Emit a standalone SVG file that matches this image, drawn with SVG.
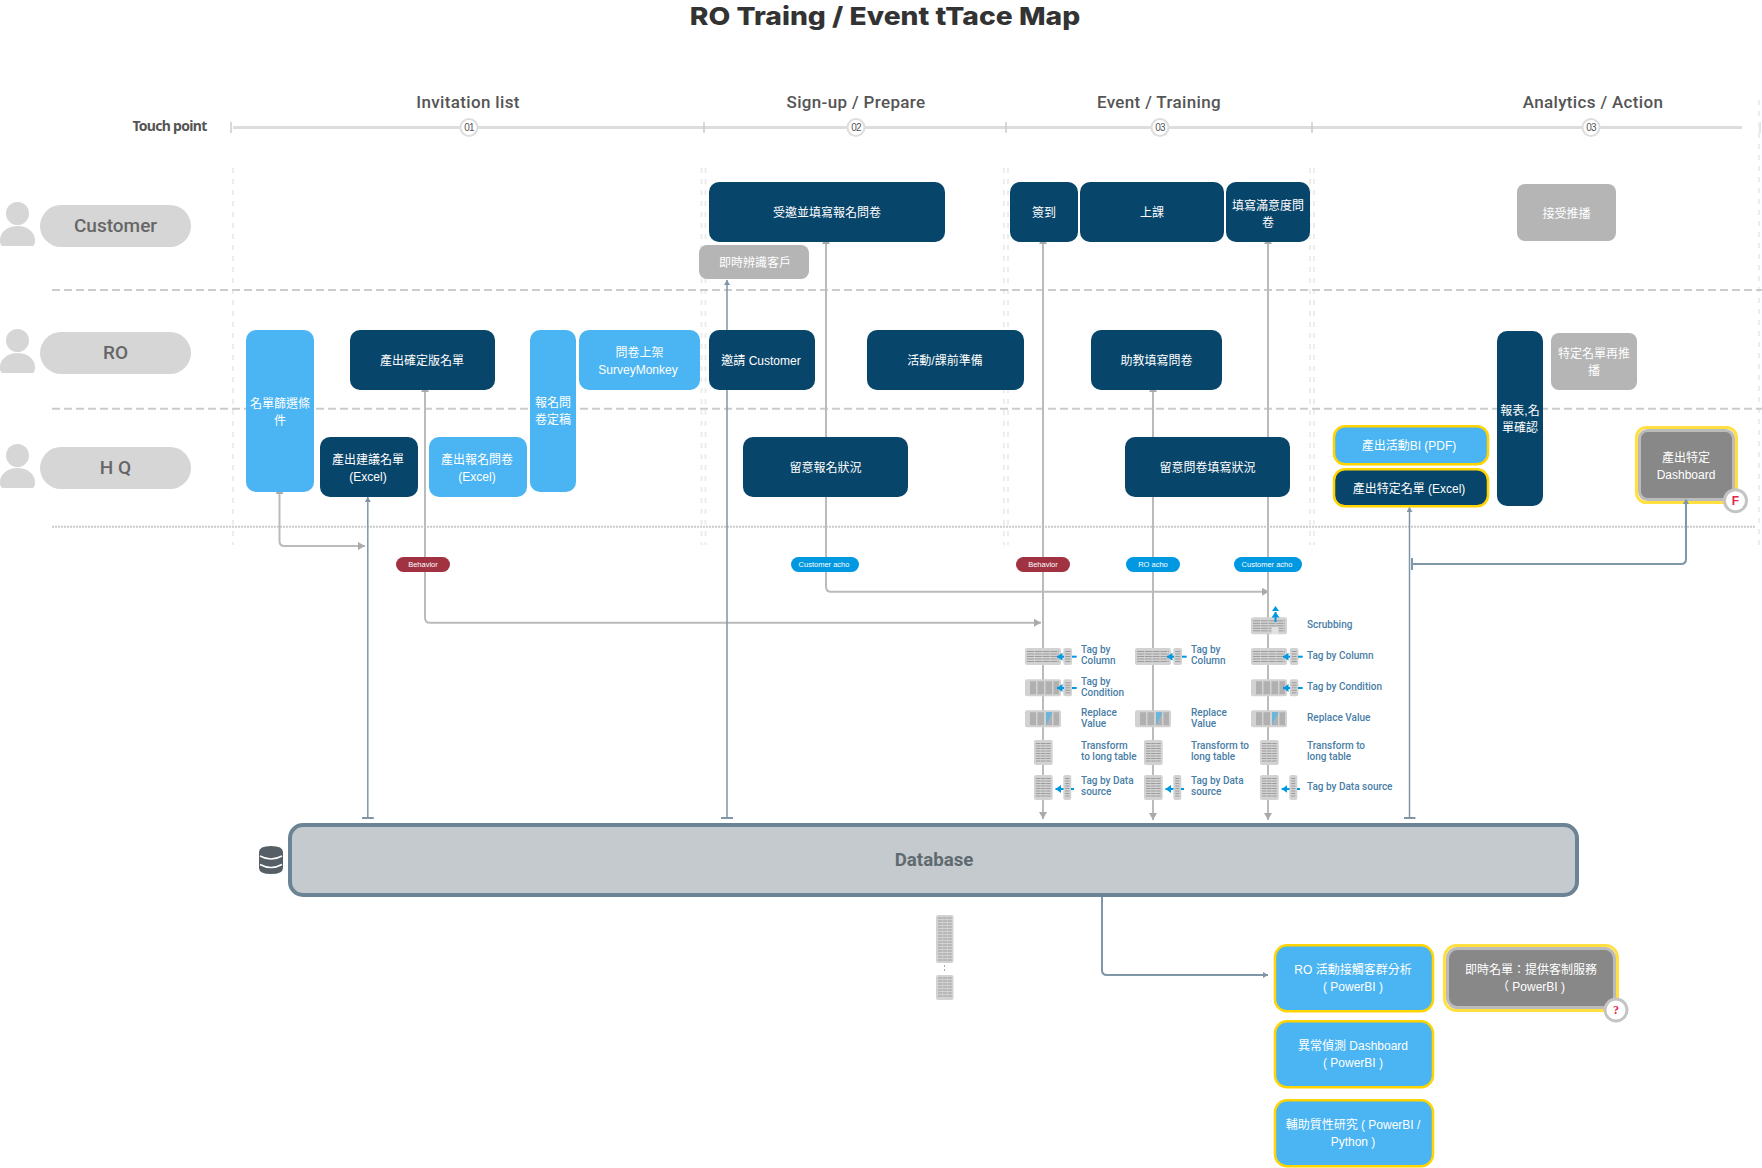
<svg xmlns="http://www.w3.org/2000/svg" width="1762" height="1168" viewBox="0 0 1762 1168">
<style>
text{font-family:"Liberation Sans","Noto Sans CJK TC",sans-serif;text-anchor:middle}
.title{font-family:Inter,"Noto Sans",sans-serif;font-size:25px;font-weight:800;fill:#333}
.phase{font-family:Roboto,sans-serif;font-size:17px;font-weight:500;fill:#555;letter-spacing:.35px}
.num{font-size:10px;fill:#555;letter-spacing:-.8px}
.actor{font-family:Roboto,sans-serif;font-size:19px;font-weight:500;fill:#666}
.n{font-size:12px;fill:#fff}
.tag{font-size:7.5px;fill:#fff}
.lab{font-family:Roboto,sans-serif;font-size:10px;font-weight:500;fill:#4a7ea6;text-anchor:start}
.dark{fill:#08456a}.blue{fill:#4ab5f2}.gray{fill:#b5b5b5}
.yl{stroke:#ffd400;stroke-width:2.5}
.sep{stroke:#ccc;stroke-width:2;stroke-dasharray:8 4;fill:none}
.vd{stroke:#ededed;stroke-width:2;stroke-dasharray:5 6;fill:none}
.tick{stroke:#ccc;stroke-width:1.5}
.cg{stroke:#bbb;stroke-width:2;fill:none}
.cb{stroke:#7f96a6;stroke-width:1.5;fill:none}
.ar{stroke:#0098e0;stroke-width:2;fill:none}
</style>
<defs>
<marker id="mg" markerUnits="userSpaceOnUse" markerWidth="8" markerHeight="8" refX="7" refY="4" orient="auto-start-reverse"><path d="M0 0L7 4L0 8Z" fill="#aaa"/></marker>
<marker id="mb" markerUnits="userSpaceOnUse" markerWidth="6" markerHeight="6" refX="5" refY="3" orient="auto-start-reverse"><path d="M0 0L5 3L0 6Z" fill="#7f96a6"/></marker>
<marker id="mt" markerUnits="userSpaceOnUse" markerWidth="4" markerHeight="12" refX="2" refY="6" orient="auto-start-reverse"><path d="M1 0H3V12H1Z" fill="#7f96a6"/></marker>
<marker id="ma" markerUnits="userSpaceOnUse" markerWidth="6" markerHeight="8" refX="5.500" refY="4" orient="auto"><path d="M0 0L5.500 4L0 8Z" fill="#0098e0"/></marker>
<g id="person" fill="#d6d6d6"><ellipse cx="17.500" cy="11.500" rx="11.500" ry="11.500"/><path d="M3 44Q0 44 0 38C0 30 8 24 17.500 24C27 24 35 30 35 38Q35 44 32 44Z"/></g>
<g id="tw"><rect width="36" height="17" rx="2" fill="#d2d2d2"/><path d="M2 3.500H34M2 6H34M2 8.500H34M2 11H34M2 13.500H34" stroke="#9c9c9c" stroke-width="1" stroke-dasharray="7 .8"/></g>
<g id="tc"><rect width="36" height="17" rx="2" fill="#d2d2d2"/><path d="M5 2H11V15H5ZM12.500 2H19V15H12.500ZM20.500 2H27V15H20.500ZM28.500 2H34V15H28.500Z" fill="#b0b0b0"/></g>
<g id="tr"><rect width="36" height="17" rx="2" fill="#d2d2d2"/><path d="M5 2H11V15H5ZM12.500 2H19V15H12.500ZM21 2H27V15H21ZM28.500 2H34V15H28.500Z" fill="#b0b0b0"/><path d="M21 2H27.500L21 15Z" fill="#66b6de"/></g>
<g id="tl"><rect width="18.700" height="25" rx="2" fill="#d2d2d2"/><path d="M2 3.500H17M2 6H17M2 8.500H17M2 11H17M2 13.500H17M2 16H17M2 18.500H17M2 21H17" stroke="#9c9c9c" stroke-width="1" stroke-dasharray="4.500 .6"/></g>
<g id="ss"><rect width="8.700" height="17" rx="2" fill="#d2d2d2"/><path d="M2 3.500H7M2 6H7M2 8.500H7M2 11H7M2 13.500H7" stroke="#9c9c9c"/></g>
<g id="sl"><rect width="8" height="25" rx="2" fill="#d2d2d2"/><path d="M2 3.500H6M2 6H6M2 8.500H6M2 11H6M2 13.500H6M2 16H6M2 18.500H6M2 21H6" stroke="#9c9c9c"/></g>
</defs>

<rect width="1762" height="1168" fill="#fff"/>
<text id="title" class="title" transform="translate(885 24.500) scale(1.13 1)">RO Traing / Event tTace Map</text>

<g id="timeline">
<text class="phase" x="468" y="108">Invitation list</text>
<text class="phase" x="856" y="108">Sign-up / Prepare</text>
<text class="phase" x="1159" y="108">Event / Training</text>
<text class="phase" x="1593" y="108">Analytics / Action</text>
<text x="169.500" y="131" style="font-family:'Noto Sans',sans-serif;font-size:14px;font-weight:700;fill:#555;letter-spacing:-.7px">Touch point</text>
<path d="M233 127.500H1742" stroke="#ddd" stroke-width="3"/>
<path class="tick" d="M231 122V133M704 122V133M1006 122V133M1312 122V133"/>
<path d="M1760 122V133" stroke="#e4e4e4" stroke-width="2"/>
<g fill="#fff" stroke="#ddd" stroke-width="2"><circle cx="469" cy="127.500" r="8.500"/><circle cx="856" cy="127.500" r="8.500"/><circle cx="1160" cy="127.500" r="8.500"/><circle cx="1591" cy="127.500" r="8.500"/></g>
<text class="num" x="469" y="131">01</text><text class="num" x="856" y="131">02</text><text class="num" x="1160" y="131">03</text><text class="num" x="1591" y="131">03</text>
</g>

<g id="grid">
<path class="vd" d="M233 168V545M701.500 168V545M705.500 168V545M1004 168V545M1008 168V545M1310 168V545M1314 168V545M1759 100V545"/>
<path class="sep" d="M52 290H1762M52 408.700H1762"/>
<path d="M52 526.700H1756" stroke="#ccc" stroke-width="2" stroke-dasharray="2 1"/>
</g>

<g id="connectors">
<path class="cg" marker-start="url(#mg)" marker-end="url(#mg)" d="M279.500 487V541Q279.500 546 284.500 546H365"/>
<path class="cg" marker-start="url(#mg)" marker-end="url(#mg)" d="M425 385V617.700Q425 622.700 430 622.700H1041"/>
<path class="cg" marker-start="url(#mg)" marker-end="url(#mg)" d="M826 237V586.700Q826 591.700 831 591.700H1269"/>
<path class="cg" marker-start="url(#mg)" marker-end="url(#mg)" d="M1043 237V819"/>
<path class="cg" marker-start="url(#mg)" marker-end="url(#mg)" d="M1153 385V820"/>
<path class="cg" marker-start="url(#mg)" marker-end="url(#mg)" d="M1268 237V820"/>
<path class="cb" marker-start="url(#mb)" marker-end="url(#mt)" d="M367.800 497V818"/>
<path class="cb" marker-start="url(#mb)" marker-end="url(#mt)" d="M727 280V818"/>
<path class="cb" marker-start="url(#mb)" marker-end="url(#mt)" d="M1409.500 507V818"/>
<path class="cb" style="stroke-width:2" marker-start="url(#mt)" d="M1412 564H1681Q1686 564 1686 559V500"/>
<path class="cb" style="stroke-width:2" marker-end="url(#mb)" d="M1102 897V970Q1102 975 1107 975H1268"/>
</g>

<g id="actors">
<g id="actor-customer"><use href="#person" x="0" y="202"/><rect x="40" y="205" width="151" height="42" rx="21" fill="#d6d6d6"/><text class="actor" x="115.500" y="232">Customer</text></g>
<g id="actor-ro"><use href="#person" x="0" y="329"/><rect x="40" y="332" width="151" height="42" rx="21" fill="#d6d6d6"/><text class="actor" x="115.500" y="359">RO</text></g>
<g id="actor-hq"><use href="#person" x="0" y="444"/><rect x="40" y="447" width="151" height="42" rx="21" fill="#d6d6d6"/><text class="actor" x="115.500" y="474">H Q</text></g>
</g>

<g id="n1"><rect class="dark" x="709" y="182" width="236" height="60" rx="10"/><text class="n" x="827" y="217">受邀並填寫報名問卷</text></g>
<g id="n2"><rect class="dark" x="1010" y="182" width="68" height="60" rx="10"/><text class="n" x="1044" y="217">簽到</text></g>
<g id="n3"><rect class="dark" x="1080" y="182" width="144" height="60" rx="10"/><text class="n" x="1152" y="217">上課</text></g>
<g id="n4"><rect class="dark" x="1226" y="182" width="84" height="60" rx="10"/><text class="n" x="1268" y="209.500">填寫滿意度問<tspan x="1268" dy="17">卷</tspan></text></g>
<g id="n5"><rect class="gray" x="1517" y="184" width="99" height="57" rx="8"/><text class="n" x="1566.500" y="218">接受推播</text></g>
<g id="n6"><rect class="gray" x="699" y="245" width="110" height="34" rx="8"/><text class="n" x="755" y="267">即時辨識客戶</text></g>

<g id="n7"><rect class="blue" x="246" y="330" width="68" height="162" rx="10"/><text class="n" x="280" y="408">名單篩選條<tspan x="280" dy="17">件</tspan></text></g>
<g id="n8"><rect class="dark" x="350" y="330" width="145" height="60" rx="10"/><text class="n" x="422" y="365">產出確定版名單</text></g>
<g id="n9"><rect class="blue" x="530" y="330" width="46" height="162" rx="10"/><text class="n" x="553" y="407">報名問<tspan x="553" dy="17">卷定稿</tspan></text></g>
<g id="n10"><rect class="blue" x="579" y="330" width="121" height="60" rx="10"/><text class="n" x="639.500" y="357">問卷上架<tspan x="638" dy="17">SurveyMonkey</tspan></text></g>
<g id="n11"><rect class="dark" x="709" y="330" width="106" height="60" rx="10"/><text class="n" x="761" y="365">邀請 Customer</text></g>
<g id="n12"><rect class="dark" x="867" y="330" width="157" height="60" rx="10"/><text class="n" x="945" y="365">活動/課前準備</text></g>
<g id="n13"><rect class="dark" x="1091" y="330" width="131" height="60" rx="10"/><text class="n" x="1156.500" y="365">助教填寫問卷</text></g>
<g id="n14"><rect class="dark" x="1497" y="331" width="46" height="175" rx="10"/><text class="n" x="1520" y="415">報表,名<tspan x="1520" dy="17">單確認</tspan></text></g>
<g id="n15"><rect class="gray" x="1551" y="333" width="86" height="57" rx="8"/><text class="n" x="1594" y="358">特定名單再推<tspan x="1594" dy="17">播</tspan></text></g>

<g id="n16"><rect class="dark" x="320" y="437" width="98" height="60" rx="10"/><text class="n" x="368" y="464">產出建議名單<tspan x="368" dy="17">(Excel)</tspan></text></g>
<g id="n17"><rect class="blue" x="429" y="437" width="98" height="60" rx="10"/><text class="n" x="477" y="464">產出報名問卷<tspan x="477" dy="17">(Excel)</tspan></text></g>
<g id="n18"><rect class="dark" x="743" y="437" width="165" height="60" rx="10"/><text class="n" x="825.500" y="472">留意報名狀況</text></g>
<g id="n19"><rect class="dark" x="1125" y="437" width="165" height="60" rx="10"/><text class="n" x="1207.500" y="472">留意問卷填寫狀況</text></g>
<g id="n20"><rect class="blue yl" x="1334" y="426.250" width="154" height="38" rx="11"/><text class="n" x="1409" y="450">產出活動BI (PDF)</text></g>
<g id="n21"><rect class="dark yl" x="1334" y="469.250" width="154" height="37" rx="11"/><text class="n" x="1409" y="493">產出特定名單 (Excel)</text></g>
<g id="n22"><rect x="1636.500" y="427.500" width="100" height="75" rx="10" fill="none" stroke="#ffe040" stroke-width="3"/><rect x="1639.500" y="430.500" width="94" height="69" rx="8" fill="#888" stroke="#bbb" stroke-width="3"/><text class="n" x="1686" y="462">產出特定<tspan x="1686" dy="17">Dashboard</tspan></text>
<path d="M1686 498.500L1689 504H1683Z" fill="#7f96a6"/><path d="M1686 503V506" stroke="#7f96a6" stroke-width="2"/>
<circle cx="1735.500" cy="500.700" r="11" fill="#fff" stroke="#c4c4c4" stroke-width="3"/><text x="1735.500" y="505" style="font-size:12px;font-weight:700;fill:#e6254b">F</text></g>

<g id="tags">
<g><rect x="396" y="557" width="54" height="15" rx="7.500" fill="#a03242"/><text class="tag" x="423" y="566.500">Behavior</text></g>
<g><rect x="791" y="557" width="68" height="15" rx="7.500" fill="#0098e0"/><text class="tag" x="824" y="566.500">Customer acho</text></g>
<g><rect x="1016" y="557" width="54" height="15" rx="7.500" fill="#a03242"/><text class="tag" x="1043" y="566.500">Behavior</text></g>
<g><rect x="1126" y="557" width="54" height="15" rx="7.500" fill="#0098e0"/><text class="tag" x="1153" y="566.500">RO acho</text></g>
<g><rect x="1234" y="557" width="68" height="15" rx="7.500" fill="#0098e0"/><text class="tag" x="1267" y="566.500">Customer acho</text></g>
</g>

<g id="col1">
<use href="#tw" x="1025" y="648"/><use href="#ss" x="1063.300" y="648"/><path class="ar" marker-end="url(#ma)" d="M1064 656.700H1057"/><path class="ar" d="M1072 656.700H1076.700"/>
<use href="#tc" x="1025" y="679.300"/><use href="#ss" x="1063.300" y="679.300"/><path class="ar" marker-end="url(#ma)" d="M1064 688H1057"/><path class="ar" d="M1072 688H1076.700"/>
<use href="#tr" x="1025" y="710.300"/>
<use href="#tl" x="1034" y="740"/>
<use href="#tl" x="1034" y="775"/><use href="#sl" x="1063.300" y="775"/><path class="ar" d="M1071 789H1074"/><path class="ar" marker-end="url(#ma)" d="M1063.500 789H1055.500"/>
<text class="lab" x="1081" y="653.300">Tag by<tspan x="1081" y="664">Column</tspan></text>
<text class="lab" x="1081" y="685.300">Tag by<tspan x="1081" y="696">Condition</tspan></text>
<text class="lab" x="1081" y="716">Replace<tspan x="1081" y="727">Value</tspan></text>
<text class="lab" x="1081" y="749">Transform<tspan x="1081" y="760">to long table</tspan></text>
<text class="lab" x="1081" y="784">Tag by Data<tspan x="1081" y="795">source</tspan></text>
</g>
<g id="col2">
<use href="#tw" x="1135" y="648"/><use href="#ss" x="1173.300" y="648"/><path class="ar" marker-end="url(#ma)" d="M1174 656.700H1167"/><path class="ar" d="M1182 656.700H1186.700"/>
<use href="#tr" x="1135" y="710.300"/>
<use href="#tl" x="1144" y="740"/>
<use href="#tl" x="1144" y="775"/><use href="#sl" x="1173.300" y="775"/><path class="ar" d="M1181 789H1184"/><path class="ar" marker-end="url(#ma)" d="M1173.500 789H1165.500"/>
<text class="lab" x="1191" y="653.300">Tag by<tspan x="1191" y="664">Column</tspan></text>
<text class="lab" x="1191" y="716">Replace<tspan x="1191" y="727">Value</tspan></text>
<text class="lab" x="1191" y="749">Transform to<tspan x="1191" y="760">long table</tspan></text>
<text class="lab" x="1191" y="784">Tag by Data<tspan x="1191" y="795">source</tspan></text>
</g>
<g id="col3">
<use href="#tw" x="1251" y="617.300"/><rect x="1271.500" y="627" width="7" height="7" fill="#e2e2e2"/>
<path class="ar" marker-end="url(#ma)" d="M1275.500 622V612"/><path d="M1275.500 606L1279 611H1272Z" fill="#0098e0"/>
<use href="#tw" x="1251" y="648"/><use href="#ss" x="1289.700" y="648"/><path class="ar" marker-end="url(#ma)" d="M1290 656.700H1283"/><path class="ar" d="M1298 656.700H1302.700"/>
<use href="#tc" x="1251" y="679.300"/><use href="#ss" x="1289.700" y="679.300"/><path class="ar" marker-end="url(#ma)" d="M1290 688H1283"/><path class="ar" d="M1298 688H1302.700"/>
<use href="#tr" x="1251" y="710.300"/>
<use href="#tl" x="1260" y="740"/>
<use href="#tl" x="1260" y="775"/><use href="#sl" x="1289.300" y="775"/><path class="ar" d="M1297 789H1300"/><path class="ar" marker-end="url(#ma)" d="M1289.500 789H1281.700"/>
<text class="lab" x="1307" y="628">Scrubbing</text>
<text class="lab" x="1307" y="659">Tag by Column</text>
<text class="lab" x="1307" y="690">Tag by Condition</text>
<text class="lab" x="1307" y="721">Replace Value</text>
<text class="lab" x="1307" y="749">Transform to<tspan x="1307" y="760">long table</tspan></text>
<text class="lab" x="1307" y="790">Tag by Data source</text>
</g>

<g id="database">
<rect x="290" y="825" width="1287" height="70" rx="13" fill="#c4cacd" stroke="#6b8394" stroke-width="4"/>
<text x="934" y="866" style="font-family:Roboto,sans-serif;font-size:18.700px;font-weight:700;fill:#5f6a70">Database</text>
<path d="M259 852Q259 846 271 846Q283 846 283 852V868Q283 874 271 874Q259 874 259 868Z" fill="#555f65"/><path d="M260 856Q271 862 282 856M260 864.500Q271 870.500 282 864.500" stroke="#fff" stroke-width="1.500" fill="none"/>
</g>

<g id="stack">
<rect x="936" y="915" width="17.500" height="48" rx="2" fill="#d2d2d2"/><path d="M938 918H952M938 921H952M938 924H952M938 927H952M938 930H952M938 933H952M938 936H952M938 939H952M938 942H952M938 945H952M938 948H952M938 951H952M938 954H952M938 957H952M938 960H952" stroke="#9c9c9c" stroke-dasharray="4.200 .6"/>
<path d="M944.500 965V973" stroke="#aaa" stroke-dasharray="2 2"/>
<rect x="936" y="975" width="17.500" height="25" rx="2" fill="#d2d2d2"/><path d="M938 978H952M938 981H952M938 984H952M938 987H952M938 990H952M938 993H952M938 996H952" stroke="#9c9c9c" stroke-dasharray="4.200 .6"/>
</g>

<g id="n23"><rect class="blue yl" x="1275" y="945.250" width="158" height="66" rx="12"/><text class="n" x="1353" y="974">RO 活動接觸客群分析<tspan x="1353" dy="17">( PowerBI )</tspan></text></g>
<g id="n24"><rect class="blue yl" x="1275" y="1021.250" width="158" height="66" rx="12"/><text class="n" x="1353" y="1050">異常偵測 Dashboard<tspan x="1353" dy="17">( PowerBI )</tspan></text></g>
<g id="n25"><rect class="blue yl" x="1275" y="1100.250" width="158" height="66" rx="12"/><text class="n" x="1353" y="1129">輔助質性研究 ( PowerBI /<tspan x="1353" dy="17">Python )</tspan></text></g>
<g id="n26"><rect x="1444.500" y="945.500" width="173" height="65" rx="12" fill="none" stroke="#ffe040" stroke-width="3"/><rect x="1447.500" y="948.500" width="167" height="59" rx="10" fill="#888" stroke="#bbb" stroke-width="3"/><text class="n" x="1531" y="974">即時名單：提供客制服務<tspan x="1531" dy="17">（ PowerBI )</tspan></text>
<circle cx="1616" cy="1010" r="11" fill="#fff" stroke="#c4c4c4" stroke-width="3"/><text x="1616" y="1014" style="font-family:'Liberation Serif',serif;font-size:12px;font-weight:700;fill:#e6254b">?</text></g>
</svg>
